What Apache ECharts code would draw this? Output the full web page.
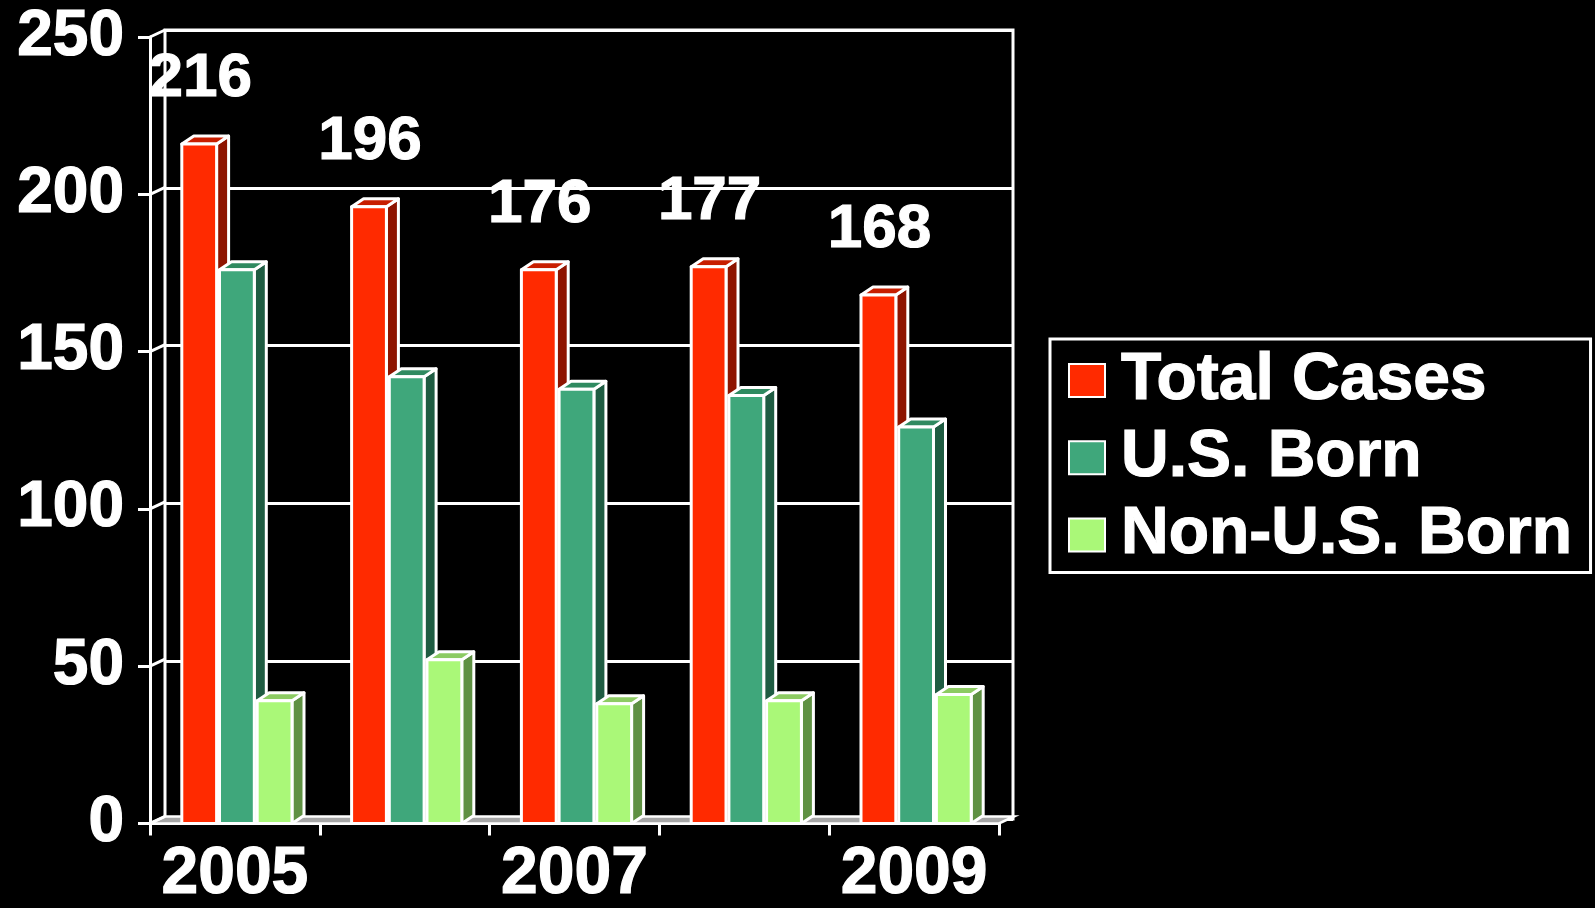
<!DOCTYPE html>
<html>
<head>
<meta charset="utf-8">
<script src="https://cdn.jsdelivr.net/npm/echarts@6/dist/echarts.min.js"></script>
<style>
html,body{margin:0;padding:0;background:#000;}
#chart{width:1595px;height:908px;}
</style>
</head>
<body>
<div id="chart"></div>
<script>
const categories = ['2005', '2006', '2007', '2008', '2009'];
const totalCases = [216, 196, 176, 177, 168];
const usBorn = [176, 142, 138, 136, 126];
const nonUsBorn = [39, 52, 38, 39, 41];
const yTicks = [0, 50, 100, 150, 200, 250];
const seriesNames = ['Total Cases', 'U.S. Born', 'Non-U.S. Born'];

const FONT = '"Liberation Sans", Arial, sans-serif';
const DX = 12, DY = -8;
const LW = 3;
const palettes = [
  { front: '#ff2a00', side: '#8e1400', top: '#c81e00' },
  { front: '#3fa77b', side: '#1f5c42', top: '#2f8a60' },
  { front: '#aaf878', side: '#5f9143', top: '#8ccb62' }
];

function makeRender(k, showLabel) {
  const pal = palettes[k];
  return function (params, api) {
    const cat = api.value(0), val = api.value(1);
    const base = api.coord([cat, 0]);
    const top = api.coord([cat, val]);
    const bw = api.size([1, 0])[0];
    const w = bw * 0.205, pitch = bw * 0.222;
    const cx = base[0] + (k - 1) * pitch + 2;
    const x0 = cx - w / 2, x1 = cx + w / 2;
    const y0 = base[1], y1 = top[1];
    const stroke = { stroke: '#ffffff', lineWidth: LW, lineJoin: 'round' };
    const children = [
      { type: 'polygon', shape: { points: [[x1, y0], [x1 + DX, y0 + DY], [x1 + DX, y1 + DY], [x1, y1]] },
        style: Object.assign({ fill: pal.side }, stroke) },
      { type: 'polygon', shape: { points: [[x0, y1], [x0 + DX, y1 + DY], [x1 + DX, y1 + DY], [x1, y1]] },
        style: Object.assign({ fill: pal.top }, stroke) },
      { type: 'rect', shape: { x: x0, y: y1, width: w, height: y0 - y1 },
        style: Object.assign({ fill: pal.front }, stroke) }
    ];
    if (showLabel) {
      children.push({
        type: 'text',
        style: {
          text: String(val), x: cx + 1, y: y1 - 65,
          fill: '#ffffff', font: 'bold 62px ' + FONT,
          stroke: '#ffffff', lineWidth: 1.2,
          align: 'center', verticalAlign: 'middle',
          textAlign: 'center', textVerticalAlign: 'middle'
        }
      });
    }
    return { type: 'group', children: children };
  };
}

function decorRender(params, api) {
  const cs = params.coordSys;
  const L = cs.x, R = cs.x + cs.width, B = cs.y + cs.height;
  const ch = [];
  ch.push({ type: 'polygon', shape: { points: [[L, B], [R, B], [R + 15, B - 7], [L + 15, B - 7]] },
    style: { fill: '#a6a6a6', stroke: '#ffffff', lineWidth: 2.5 } });
  yTicks.forEach(function (v) {
    const y = api.coord([0, v])[1];
    ch.push({ type: 'line', shape: { x1: L, y1: y, x2: L + 15, y2: y - 7 },
      style: { stroke: '#ffffff', lineWidth: LW } });
  });
  return { type: 'group', children: ch };
}

const seriesData = [totalCases, usBorn, nonUsBorn];
const boldText = { textBorderColor: '#ffffff', textBorderWidth: 1.2 };

const option = {
  backgroundColor: '#000000',
  animation: false,
  textStyle: { fontFamily: FONT },
  legend: {
    orient: 'vertical',
    left: 1050, top: 339,
    padding: [8, 18, 4, 18],
    borderColor: '#ffffff', borderWidth: LW,
    itemWidth: 36, itemHeight: 33, itemGap: 10,
    icon: 'rect',
    itemStyle: { borderColor: '#ffffff', borderWidth: 2 },
    textStyle: Object.assign({ color: '#ffffff', fontSize: 66, fontWeight: 'bold', fontFamily: FONT, lineHeight: 66, padding: [0, 0, 0, 11] }, boldText),
    data: seriesNames
  },
  grid: [
    { left: 150, right: 596, top: 37, bottom: 82 },
    { left: 165, right: 582, top: 30, bottom: 89, show: true, borderColor: '#ffffff', borderWidth: LW, backgroundColor: 'transparent' }
  ],
  xAxis: [
    {
      type: 'category', gridIndex: 0, data: categories, boundaryGap: true,
      axisLine: { lineStyle: { color: '#ffffff', width: LW } },
      axisTick: { show: true, interval: 0, length: 12, lineStyle: { color: '#ffffff', width: LW } },
      axisLabel: Object.assign({ interval: 1, color: '#ffffff', fontSize: 66, fontWeight: 'bold', fontFamily: FONT, margin: 18 }, boldText),
      splitLine: { show: false }
    },
    {
      type: 'category', gridIndex: 1, data: categories, show: false
    }
  ],
  yAxis: [
    {
      type: 'value', gridIndex: 0, min: 0, max: 250, interval: 50,
      axisLine: { show: true, lineStyle: { color: '#ffffff', width: LW } },
      axisTick: { show: true, length: 12, lineStyle: { color: '#ffffff', width: LW } },
      axisLabel: Object.assign({ color: '#ffffff', fontSize: 64, fontWeight: 'bold', fontFamily: FONT, margin: 26 }, boldText),
      splitLine: { show: false }
    },
    {
      type: 'value', gridIndex: 1, min: 0, max: 250, interval: 50,
      axisLine: { show: false }, axisTick: { show: false }, axisLabel: { show: false },
      splitLine: { show: true, lineStyle: { color: '#ffffff', width: LW } }
    }
  ],
  series: [
    {
      type: 'custom', name: 'decor', xAxisIndex: 0, yAxisIndex: 0, z: 1,
      renderItem: decorRender, data: [[0, 0]], silent: true
    }
  ].concat(seriesData.map(function (arr, k) {
    return {
      type: 'custom', name: seriesNames[k], xAxisIndex: 0, yAxisIndex: 0,
      itemStyle: { color: palettes[k].front, borderColor: '#ffffff' },
      encode: { x: 0, y: 1 },
      renderItem: makeRender(k, k === 0),
      data: arr.map(function (v, i) { return [i, v]; })
    };
  }))
};

const chart = echarts.init(document.getElementById('chart'));
chart.setOption(option);
</script>
</body>
</html>
